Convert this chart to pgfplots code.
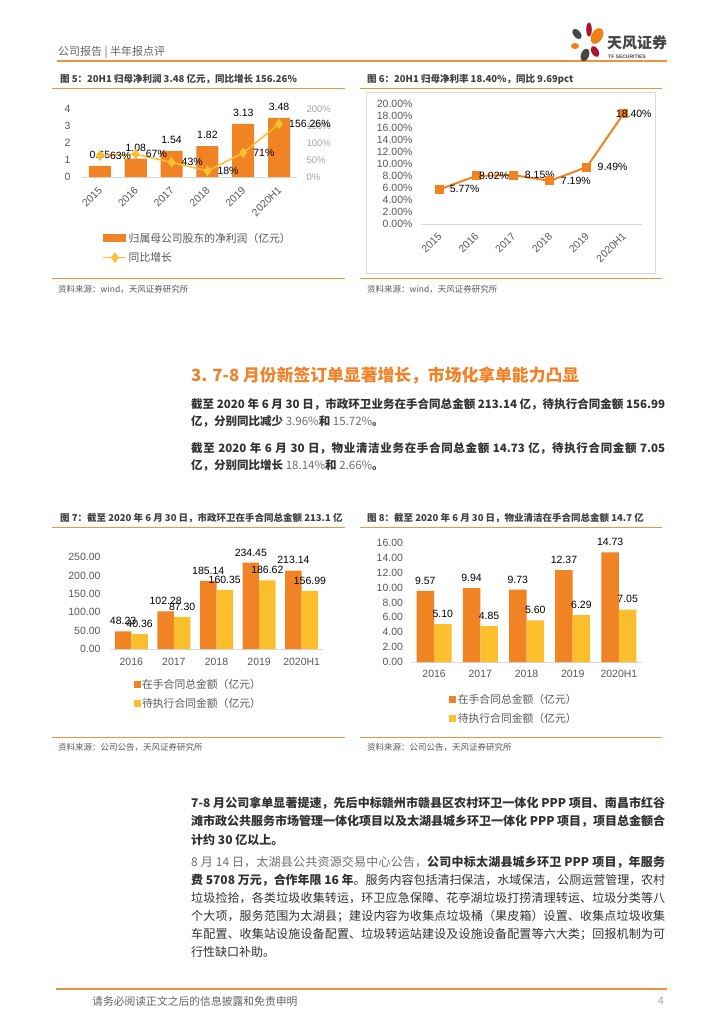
\documentclass[border=0pt]{standalone}
\usepackage{fontspec}
\setmainfont{Liberation Sans}
\newfontfamily\cjk{Noto Sans CJK SC}
\usepackage{pgfplots}
\pgfplotsset{compat=1.18}
\XeTeXlinebreaklocale "zh"
\XeTeXlinebreakskip = 0pt plus 1pt minus 0.3pt
\newcommand\fs[1]{\fontsize{#1}{#1}\selectfont}
\definecolor{barorange}{RGB}{240,132,36}
\definecolor{baryellow}{RGB}{251,190,45}
\definecolor{lineyellow}{RGB}{250,192,50}
\definecolor{lineorange}{RGB}{240,132,36}
\definecolor{ruleorange}{RGB}{243,146,60}
\definecolor{tickgray}{RGB}{89,89,89}
\definecolor{lighttick}{RGB}{165,165,165}
\definecolor{axisgray}{RGB}{217,217,217}
\definecolor{bodytext}{RGB}{50,50,50}
\definecolor{lighttext}{RGB}{110,110,110}
\definecolor{titletext}{RGB}{64,64,64}
\definecolor{headgray}{RGB}{100,100,100}
\definecolor{headorange}{RGB}{240,130,40}
\definecolor{logogray}{RGB}{70,70,70}
\definecolor{logored}{RGB}{170,20,50}
\definecolor{logoorange}{RGB}{240,130,20}
\pgfplotsset{/pgf/number format/assume math mode=true,
 tfaxis/.style={scale only axis, anchor=south west, clip=false,
  axis x line*=bottom, axis y line*=left,
  x axis line style={draw=axisgray,-}, y axis line style={draw=none},
  major tick length=0pt, tick style={draw=none}},
 tflegend/.style={legend style={draw=none, fill=none, font=\cjk\fs{10.8}, text=tickgray,
  legend cell align=left, row sep=5.5pt, inner sep=0pt, nodes={inner sep=1.5pt}}},
 diamondlegend/.style={legend image code/.code={\draw[mark repeat=2, mark phase=2, ##1] plot coordinates {(0pt,0pt) (11.5pt,0pt) (23pt,0pt)};}}}
\begin{document}
\begin{tikzpicture}
\fill[white] (0pt,0pt) rectangle (724pt,-1024pt);
\path[use as bounding box] (0pt,0pt) rectangle (724pt,-1024pt);
% header
\node[anchor=west, inner sep=0pt, font=\cjk\fs{11}, text=headgray] at (58pt,-52pt) {公司报告 | 半年报点评};
\draw[ruleorange, line width=2pt] (57pt,-61pt) -- (667pt,-61pt);
% logo
\fill[logogray, rotate around={40:(577pt,-34pt)}] (577pt,-34pt) ellipse (3.5pt and 6pt);
\fill[logored] (589pt,-29.5pt) ellipse (2.8pt and 7pt);
\fill[logoorange, rotate around={-30:(597pt,-36pt)}] (597pt,-36pt) ellipse (5.5pt and 8.5pt);
\fill[logoorange] (575pt,-46pt) ellipse (4pt and 3pt);
\fill[logored, rotate around={30:(595pt,-51.5pt)}] (595pt,-51.5pt) ellipse (3.5pt and 6pt);
\fill[logogray, rotate around={-20:(585pt,-55pt)}] (585pt,-55pt) ellipse (4pt and 6.5pt);
\node[anchor=west, inner sep=0pt, font=\cjk\bfseries\fs{15}, text=logogray] at (607pt,-43pt) {天风证券};
\node[anchor=west, inner sep=0pt, font=\bfseries\fs{5}, text=logogray] at (608pt,-56.5pt) {TF SECURITIES};
% ===== Chart 5 =====
\node[anchor=west, inner sep=0pt, font=\cjk\bfseries\fs{9.5}, text=titletext] at (60pt,-79pt) {图 5：20H1 归母净利润 3.48 亿元，同比增长 156.26\%};
\draw[ruleorange, line width=0.8pt] (52pt,-88pt) -- (345pt,-88pt);
\draw[ruleorange, line width=0.8pt] (52pt,-278pt) -- (345pt,-278pt);
\node[anchor=west, inner sep=0pt, font=\cjk\fs{8.5}, text=tickgray] at (58pt,-289pt) {资料来源：wind，天风证券研究所};
\begin{axis}[tfaxis, tflegend, at={(82pt,-177pt)}, width=215pt, height=68pt,
  xmin=-0.5, xmax=5.5, ymin=0, ymax=4,
  xtick={0,...,5}, xticklabels={2015,2016,2017,2018,2019,2020H1},
  xticklabel style={yshift=-9pt, xshift=3pt, rotate=45, anchor=east, font=\fs{10.5}, text=tickgray},
  ytick={0,1,2,3,4},
  yticklabel style={xshift=-8pt, font=\fs{10.5}, text=tickgray},
  legend style={at={(0.095,-0.80)}, anchor=north west}]
\addplot[ybar, bar width=22pt, fill=barorange, draw=none,
  nodes near coords={\pgfmathprintnumber[fixed,fixed zerofill,precision=2]{\pgfplotspointmeta}},
  nodes near coords style={font=\fs{10.5}, text=black, yshift=4pt},
  legend image code/.code={\fill[barorange] (0pt,-4pt) rectangle (23pt,4pt);}]
  coordinates {(0,0.65) (1,1.08) (2,1.54) (3,1.82) (4,3.13) (5,3.48)};
\addlegendentry{归属母公司股东的净利润（亿元）}
\addlegendimage{lineyellow, line width=1.6pt, mark=diamond*, mark size=4pt, diamondlegend}
\addlegendentry{同比增长}
\end{axis}
\begin{axis}[tfaxis, at={(82pt,-177pt)}, width=215pt, height=68pt,
  xmin=-0.5, xmax=5.5, ymin=0, ymax=200,
  axis x line=none, axis y line*=right, y axis line style={draw=none},
  ytick={0,50,100,150,200}, yticklabel={\pgfmathprintnumber{\tick}\%},
  yticklabel style={xshift=6pt, font=\fs{9.5}, text=lighttick}]
\addplot[lineyellow, line width=1.6pt, mark=diamond*, mark size=4pt,
  nodes near coords={\pgfmathprintnumber{\pgfplotspointmeta}\%},
  nodes near coords style={anchor=west, xshift=6pt, font=\fs{10.5}, text=black}]
  coordinates {(0,63) (1,67) (2,43) (3,18) (4,71) (5,156.26)};
\end{axis}
% ===== Chart 6 =====
\node[anchor=west, inner sep=0pt, font=\cjk\bfseries\fs{9.5}, text=titletext] at (367pt,-79pt) {图 6：20H1 归母净利率 18.40\%，同比 9.69pct};
\draw[ruleorange, line width=0.8pt] (360pt,-88pt) -- (662pt,-88pt);
\draw[ruleorange, line width=0.8pt] (360pt,-278pt) -- (662pt,-278pt);
\node[anchor=west, inner sep=0pt, font=\cjk\fs{8.5}, text=tickgray] at (367pt,-289pt) {资料来源：wind，天风证券研究所};
\draw[axisgray, line width=0.8pt] (366pt,-92pt) rectangle (655pt,-273pt);
\begin{axis}[tfaxis, at={(421pt,-224pt)}, width=221pt, height=120pt,
  xmin=-0.5, xmax=5.5, ymin=0, ymax=20,
  xtick={0,...,5}, xticklabels={2015,2016,2017,2018,2019,2020H1},
  xticklabel style={yshift=-8pt, xshift=3pt, rotate=45, anchor=east, font=\fs{10.5}, text=tickgray},
  ytick={0,2,...,20},
  yticklabel={\pgfmathprintnumber[fixed,fixed zerofill,precision=2]{\tick}\%},
  yticklabel style={xshift=-5pt, font=\fs{10.5}, text=tickgray}]
\addplot[lineorange, line width=2pt, mark=square*, mark size=3.5pt,
  visualization depends on={\thisrow{dx}\as\dx},
  nodes near coords={\pgfmathprintnumber[fixed,fixed zerofill,precision=2]{\pgfplotspointmeta}\%},
  nodes near coords style={anchor=west, xshift=\dx pt, font=\fs{10.5}, text=black}]
  table[x=x, y=y] {
x y dx
0 5.77 6
1 8.02 -1.4
2 8.15 7.5
3 7.19 6.7
4 9.49 6.6
5 18.40 -12
};
\end{axis}
% ===== Section text =====
\node[anchor=west, inner sep=0pt, font=\cjk\bfseries\fs{16.8}, text=headorange] at (191pt,-375pt) {3. 7-8 月份新签订单显著增长，市场化拿单能力凸显};
\node[anchor=north west, inner sep=0pt, text width=474pt, align=justify, font=\cjk\fontsize{11.5}{17.5}\selectfont, text=bodytext] at (191pt,-398pt)
 {{\bfseries 截至 2020 年 6 月 30 日，市政环卫业务在手合同总金额 213.14 亿，待执行合同金额 156.99\linebreak 亿，分别同比减少 }{\color{lighttext}3.96\%}{\bfseries 和 }{\color{lighttext}15.72\%}{\bfseries 。}};
\node[anchor=north west, inner sep=0pt, text width=474pt, align=justify, font=\cjk\fontsize{11.5}{17.5}\selectfont, text=bodytext] at (191pt,-442pt)
 {{\bfseries 截至 2020 年 6 月 30 日，物业清洁业务在手合同总金额 14.73 亿，待执行合同金额 7.05\linebreak 亿，分别同比增长 }{\color{lighttext}18.14\%}{\bfseries 和 }{\color{lighttext}2.66\%}{\bfseries 。}};
% ===== Chart 7 =====
\node[anchor=west, inner sep=0pt, font=\cjk\bfseries\fs{9.5}, text=titletext] at (60pt,-518pt) {图 7：截至 2020 年 6 月 30 日，市政环卫在手合同总金额 213.1 亿};
\draw[ruleorange, line width=0.8pt] (52pt,-527pt) -- (345pt,-527pt);
\draw[ruleorange, line width=0.8pt] (52pt,-737pt) -- (345pt,-737pt);
\node[anchor=west, inner sep=0pt, font=\cjk\fs{8.5}, text=tickgray] at (58pt,-747pt) {资料来源：公司公告，天风证券研究所};
\begin{axis}[tfaxis, tflegend, at={(110pt,-649pt)}, width=213pt, height=92pt,
  xmin=-0.5, xmax=4.5, ymin=0, ymax=250,
  ybar=0pt, bar width=16.5pt,
  xtick={0,...,4}, xticklabels={2016,2017,2018,2019,2020H1},
  xticklabel style={yshift=-5.5pt, font=\fs{10.5}, text=tickgray},
  ytick={0,50,...,250},
  yticklabel={\pgfmathprintnumber[fixed,fixed zerofill,precision=2]{\tick}},
  yticklabel style={xshift=-6pt, font=\fs{10.5}, text=tickgray},
  nodes near coords={\pgfmathprintnumber[fixed,fixed zerofill,precision=2]{\pgfplotspointmeta}},
  nodes near coords style={font=\fs{10.5}, text=black, yshift=3pt},
  legend style={at={(0.11,-0.31)}, anchor=north west}]
\addplot[fill=barorange, draw=none, legend image code/.code={\fill[barorange] (0pt,-3.5pt) rectangle (7pt,3.5pt);}]
  coordinates {(0,48.23) (1,102.28) (2,185.14) (3,234.45) (4,213.14)};
\addlegendentry{在手合同总金额（亿元）}
\addplot[fill=baryellow, draw=none, legend image code/.code={\fill[baryellow] (0pt,-3.5pt) rectangle (7pt,3.5pt);}]
  coordinates {(0,40.36) (1,87.30) (2,160.35) (3,186.62) (4,156.99)};
\addlegendentry{待执行合同金额（亿元）}
\end{axis}
% ===== Chart 8 =====
\node[anchor=west, inner sep=0pt, font=\cjk\bfseries\fs{9.5}, text=titletext] at (367pt,-518pt) {图 8：截至 2020 年 6 月 30 日，物业清洁在手合同总金额 14.7 亿};
\draw[ruleorange, line width=0.8pt] (360pt,-527pt) -- (662pt,-527pt);
\draw[ruleorange, line width=0.8pt] (360pt,-737pt) -- (662pt,-737pt);
\node[anchor=west, inner sep=0pt, font=\cjk\fs{8.5}, text=tickgray] at (367pt,-747pt) {资料来源：公司公告，天风证券研究所};
\begin{axis}[tfaxis, tflegend, at={(411pt,-662pt)}, width=231pt, height=119pt,
  xmin=-0.5, xmax=4.5, ymin=0, ymax=16,
  ybar=0pt, bar width=17.5pt,
  xtick={0,...,4}, xticklabels={2016,2017,2018,2019,2020H1},
  xticklabel style={yshift=-4.5pt, font=\fs{10.5}, text=tickgray},
  ytick={0,2,...,16},
  yticklabel={\pgfmathprintnumber[fixed,fixed zerofill,precision=2]{\tick}},
  yticklabel style={xshift=-4.5pt, font=\fs{10.5}, text=tickgray},
  nodes near coords={\pgfmathprintnumber[fixed,fixed zerofill,precision=2]{\pgfplotspointmeta}},
  nodes near coords style={font=\fs{10.5}, text=black, yshift=3pt},
  legend style={at={(0.165,-0.255)}, anchor=north west}]
\addplot[fill=barorange, draw=none, legend image code/.code={\fill[barorange] (0pt,-3.5pt) rectangle (7pt,3.5pt);}]
  coordinates {(0,9.57) (1,9.94) (2,9.73) (3,12.37) (4,14.73)};
\addlegendentry{在手合同总金额（亿元）}
\addplot[fill=baryellow, draw=none, legend image code/.code={\fill[baryellow] (0pt,-3.5pt) rectangle (7pt,3.5pt);}]
  coordinates {(0,5.10) (1,4.85) (2,5.60) (3,6.29) (4,7.05)};
\addlegendentry{待执行合同金额（亿元）}
\end{axis}
% ===== Bottom text =====
\node[anchor=north west, inner sep=0pt, text width=474pt, align=justify, font=\cjk\fontsize{12}{18.3}\selectfont, text=bodytext] at (191pt,-797pt)
 {{\bfseries 7-8 月公司拿单显著提速，先后中标赣州市赣县区农村环卫一体化 PPP 项目、南昌市红谷\linebreak 滩市政公共服务市场管理一体化项目以及太湖县城乡环卫一体化 PPP 项目，项目总金额合\linebreak 计约 30 亿以上。}};
\node[anchor=north west, inner sep=0pt, text width=474pt, align=justify, font=\cjk\fontsize{12}{18}\selectfont, text=bodytext] at (191pt,-856pt)
 {{\color{lighttext}8 月 14 日，太湖县公共资源交易中心公告，}{\bfseries 公司中标太湖县城乡环卫 PPP 项目，年服务\linebreak 费 5708 万元，合作年限 16 年}。服务内容包括清扫保洁，水域保洁，公厕运营管理，农村\linebreak 垃圾捡拾，各类垃圾收集转运，环卫应急保障、花亭湖垃圾打捞清理转运、垃圾分类等八\linebreak 个大项，服务范围为太湖县；建设内容为收集点垃圾桶（果皮箱）设置、收集点垃圾收集\linebreak 车配置、收集站设施设备配置、垃圾转运站建设及设施设备配置等六大类；回报机制为可\linebreak 行性缺口补助。};
% footer
\draw[ruleorange, line width=2pt] (56pt,-989pt) -- (667pt,-989pt);
\node[anchor=west, inner sep=0pt, font=\cjk\fs{10.8}, text=headgray] at (92pt,-1001pt) {请务必阅读正文之后的信息披露和免责申明};
\node[anchor=east, inner sep=0pt, font=\fs{10.8}, text=lighttick] at (664pt,-1001pt) {4};
\end{tikzpicture}
\end{document}
